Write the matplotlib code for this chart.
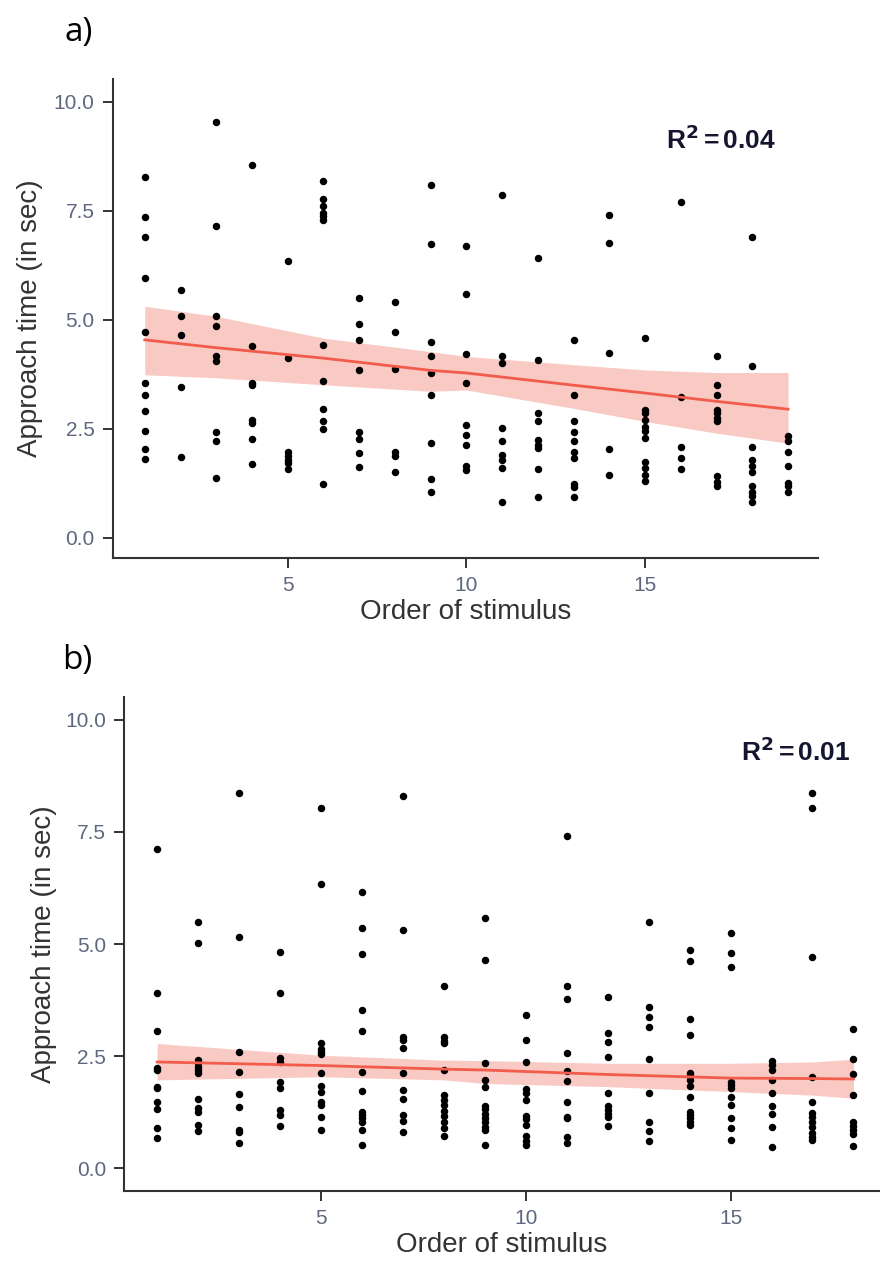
import numpy as np
from matplotlib import pyplot as plt
from matplotlib.ticker import FormatStrFormatter

# Approach times read per stimulus order, panel a (orders 1-19).
times_a = {
    1: [8.27, 7.36, 6.89, 5.96, 4.72, 3.56, 3.28, 2.91, 2.45, 2.03, 1.80],
    2: [5.69, 5.08, 4.66, 3.47, 1.85],
    3: [9.53, 7.16, 5.08, 4.85, 4.16, 4.06, 2.42, 2.21, 1.38],
    4: [8.55, 4.39, 3.56, 3.50, 2.71, 2.63, 2.26, 1.70],
    5: [6.34, 4.12, 1.96, 1.88, 1.79, 1.71, 1.58],
    6: [8.19, 7.78, 7.60, 7.45, 7.37, 7.29, 4.43, 3.60, 2.95, 2.69, 2.49, 1.24],
    7: [5.50, 4.90, 4.53, 3.84, 2.42, 2.26, 1.94, 1.62],
    8: [5.41, 4.72, 3.87, 1.98, 1.88, 1.52],
    9: [8.09, 6.74, 4.48, 4.16, 3.78, 3.28, 2.17, 1.35, 1.05],
    10: [6.70, 5.59, 4.21, 3.56, 2.59, 2.36, 2.12, 1.64, 1.56],
    11: [7.86, 4.17, 4.02, 2.52, 2.23, 1.90, 1.79, 1.60, 0.82],
    12: [6.42, 4.07, 2.86, 2.67, 2.25, 2.13, 2.06, 1.58, 0.93],
    13: [4.54, 3.28, 2.67, 2.42, 2.23, 1.98, 1.83, 1.23, 1.16, 0.93],
    14: [7.40, 6.75, 4.25, 2.03, 1.43],
    15: [4.58, 2.94, 2.86, 2.71, 2.55, 2.44, 2.29, 1.73, 1.60, 1.44, 1.31],
    16: [7.71, 3.24, 2.08, 1.83, 1.58],
    17: [4.17, 3.51, 3.28, 2.94, 2.86, 2.75, 2.67, 1.41, 1.29, 1.18],
    18: [6.89, 3.93, 2.08, 1.79, 1.64, 1.52, 1.18, 1.06, 0.95, 0.83],
    19: [2.34, 2.23, 1.96, 1.65, 1.25, 1.18, 1.05],
}

# Panel b (orders 1-18).
times_b = {
    1: [7.12, 3.90, 3.06, 2.23, 2.20, 1.82, 1.78, 1.48, 1.31, 0.90, 0.68],
    2: [5.49, 5.02, 2.41, 2.34, 2.26, 2.19, 2.12, 1.54, 1.34, 1.26, 0.96, 0.83],
    3: [8.37, 5.16, 2.60, 2.15, 1.65, 1.36, 0.85, 0.80, 0.56],
    4: [4.82, 3.90, 2.45, 2.37, 1.93, 1.78, 1.30, 1.19, 0.94],
    5: [8.04, 6.33, 2.80, 2.67, 2.60, 2.55, 2.12, 1.83, 1.71, 1.48, 1.41, 1.14, 0.85],
    6: [6.16, 5.36, 4.77, 3.53, 3.06, 2.15, 1.73, 1.25, 1.19, 1.11, 1.04, 0.85, 0.52],
    7: [8.29, 5.32, 2.93, 2.86, 2.69, 2.12, 1.74, 1.54, 1.19, 1.06, 0.80],
    8: [4.07, 2.92, 2.84, 2.80, 2.19, 1.63, 1.52, 1.41, 1.28, 1.17, 1.02, 0.89, 0.72],
    9: [5.57, 4.65, 2.34, 1.97, 1.82, 1.39, 1.31, 1.22, 1.11, 1.02, 0.93, 0.85, 0.52],
    10: [3.41, 2.86, 2.36, 1.76, 1.67, 1.52, 1.16, 1.09, 0.96, 0.72, 0.61, 0.52],
    11: [7.42, 4.07, 3.77, 2.57, 2.17, 1.95, 1.47, 1.15, 1.11, 0.70, 0.56],
    12: [3.82, 3.01, 2.82, 2.49, 1.68, 1.39, 1.30, 1.22, 1.15, 0.94],
    13: [5.49, 3.60, 3.38, 3.15, 2.43, 1.68, 1.04, 0.82, 0.61],
    14: [4.86, 4.62, 3.32, 2.98, 2.13, 2.06, 1.97, 1.83, 1.59, 1.26, 1.19, 1.11, 1.04, 0.96],
    15: [5.25, 4.81, 4.49, 1.93, 1.86, 1.78, 1.58, 1.41, 1.11, 0.89, 0.63],
    16: [2.39, 2.30, 2.19, 1.97, 1.68, 1.39, 1.22, 0.93, 0.48],
    17: [8.37, 8.04, 4.70, 2.04, 1.48, 1.24, 1.14, 1.02, 0.93, 0.78, 0.70, 0.63],
    18: [3.10, 2.43, 2.10, 1.63, 1.04, 0.95, 0.85, 0.76, 0.50],
}

# Fitted trend and its confidence band.
fit_x_a = [1, 3, 6, 9, 10, 13, 15, 17, 19]
fit_a = [4.54, 4.36, 4.12, 3.84, 3.78, 3.50, 3.32, 3.13, 2.95]
band_lo_a = [3.74, 3.67, 3.51, 3.36, 3.39, 2.97, 2.67, 2.40, 2.17]
band_hi_a = [5.31, 5.08, 4.58, 4.27, 4.16, 3.97, 3.85, 3.79, 3.79]

fit_x_b = [1, 5, 8, 9, 12, 15, 17, 18]
fit_b = [2.37, 2.29, 2.21, 2.19, 2.09, 2.01, 2.00, 1.99]
band_lo_b = [1.97, 2.04, 1.97, 1.89, 1.82, 1.71, 1.63, 1.56]
band_hi_b = [2.78, 2.52, 2.41, 2.40, 2.34, 2.34, 2.37, 2.43]

r2_labels = ["0.04", "0.01"]
panel_letters = ["a)", "b)"]
x_ticks = [5, 10, 15]
y_ticks = [0.0, 2.5, 5.0, 7.5, 10.0]

LINE_RED = '#f25c4c'
RIBBON = '#f7b3aa'
TICK_GREY = '#5f6680'
SPINE = '#333333'


def flatten(times):
    """Turn the dict of columns into x and y arrays."""
    xs, ys = [], []
    for order, vals in times.items():
        xs += [order] * len(vals)
        ys += vals
    return xs, ys


fig = plt.figure(figsize=(8.81, 12.68), dpi=100)
plt.rcParams['font.family'] = ['Liberation Sans', 'DejaVu Sans']

ax_a = fig.add_axes([0.128, 0.560, 0.801, 0.378])
ax_b = fig.add_axes([0.141, 0.061, 0.857, 0.389])

setup = [
    (ax_a, times_a, (fit_x_a, fit_a, band_lo_a, band_hi_a),
     (0.104, 19.85), (-0.46, 10.53), (0.862, 0.873)),
    (ax_b, times_b, (fit_x_b, fit_b, band_lo_b, band_hi_b),
     (0.195, 18.63), (-0.50, 10.50), (0.89, 0.889)),
]

for i, (ax, times, trend, xlim, ylim, r2_pos) in enumerate(setup):
    x, y = flatten(times)
    fx, fy, lo, hi = trend

    ax.fill_between(fx, lo, hi, color=RIBBON, alpha=0.7, lw=0, zorder=1)
    ax.scatter(x, y, s=29, c='black', marker='o', lw=0, zorder=2)
    ax.plot(fx, fy, color=LINE_RED, lw=2, zorder=3)

    ax.set_xlim(*xlim)
    ax.set_ylim(*ylim)
    ax.set_xticks(x_ticks)
    ax.set_yticks(y_ticks)
    ax.yaxis.set_major_formatter(FormatStrFormatter('%.1f'))

    for side in ['top', 'right']:
        ax.spines[side].set_visible(False)
    for side in ['left', 'bottom']:
        ax.spines[side].set_color(SPINE)
        ax.spines[side].set_linewidth(1.5)
    ax.tick_params(axis='both', direction='out', length=7, width=1.4,
                   color=SPINE, labelcolor=TICK_GREY, labelsize=15, pad=6)

    ax.set_xlabel("Order of stimulus", fontsize=20, color='#333333', labelpad=3)
    ax.set_ylabel("Approach time (in sec)", fontsize=20, color='#333333',
                  labelpad=8 if i == 0 else 6)

    ax.text(r2_pos[0], r2_pos[1], r"R$^\mathbf{2}$$\,$=$\,$" + r2_labels[i],
            transform=ax.transAxes, ha='center', va='center',
            fontsize=19, fontweight='bold', color='#151530')

fig.text(0.073, 0.974, panel_letters[0], fontsize=24, family='Open Sans', va='center')
fig.text(0.071, 0.479, panel_letters[1], fontsize=24, family='Open Sans', va='center')

plt.savefig('out.png', dpi=100)
